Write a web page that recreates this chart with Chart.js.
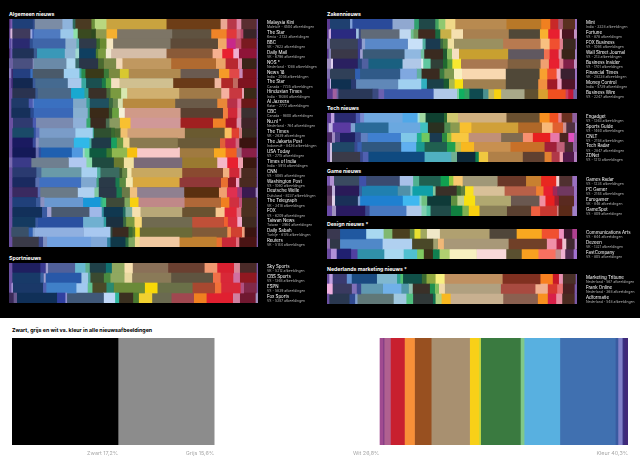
<!DOCTYPE html>
<html lang="nl">
<head>
<meta charset="utf-8">
<title>Kleur in nieuwsafbeeldingen</title>
<script src="https://cdn.jsdelivr.net/npm/chart.js@4"></script>
<style>
  html, body { margin: 0; padding: 0; background: #000; }
  #page { position: relative; width: 640px; height: 465px; overflow: hidden; font-family: Inter, sans-serif; }
  #lower { position: absolute; left: 0; top: 318px; width: 640px; height: 147px; background: #fff; }
  canvas { position: absolute; }
  .kop { position: absolute; margin: 0; font-size: 5.2px; line-height: 7px; font-weight: 700; color: #fff; white-space: nowrap; }
  .kop.zwart { color: #000; font-size: 5.3px; }
</style>
</head>
<body>
<div id="page"><div id="lower"></div></div>
<script>
// ---- Algemeen nieuws
const algemeenNames = ['Malaysia Kini', 'The Star', 'BBC', 'Daily Mail', 'NOS *', 'News 18', 'The Star', 'Hindustan Times', 'Al Jazeera', 'CBC', 'Nu.nl *', 'The Times', 'The Jakarta Post', 'USA Today', 'Times of India', 'CNN', 'Washington Post', 'Deutsche Welle', 'The Telegraph', 'FOX', 'Taiwan News', 'Daily Sabah', 'Reuters'];
const algemeenSubs = ['Maleisië - 4504 afbeeldingen', 'Kenia - 2733 afbeeldingen', 'VK - 7623 afbeeldingen', 'VK - 6796 afbeeldingen', 'Nederland - 1088 afbeeldingen', 'India - 2056 afbeeldingen', 'Canada - 7735 afbeeldingen', 'India - 19384 afbeeldingen', 'Katar - 2772 afbeeldingen', 'Canada - 9800 afbeeldingen', 'Nederland - 764 afbeeldingen', 'VK - 2639 afbeeldingen', 'Indonesië - 8436 afbeeldingen', 'VS - 2715 afbeeldingen', 'India - 5914 afbeeldingen', 'VS - 5065 afbeeldingen', 'VS - 1060 afbeeldingen', 'Duitsland - 8237 afbeeldingen', 'VK - 3418 afbeeldingen', 'VS - 6209 afbeeldingen', 'Taiwan - 3964 afbeeldingen', 'Turkije - 6176 afbeeldingen', 'VK - 5144 afbeeldingen'];
// relative share of each colour band, every row gets scaled to 100%
const algemeenShares = [
  [3,6,61,6,83,31,8,48,10,35,180,162,20,28,14,46,5],
  [3,6,54,6,4,80,39,13,41,13,32,32,165,117,46,30,12,8,40,5],
  [6,3,52,9,98,33,8,52,10,20,20,172,142,26,27,17,46,5],
  [3,6,64,10,83,32,11,50,7,23,16,166,138,29,33,17,53,5],
  [11,59,3,98,27,11,57,17,37,19,146,134,29,37,12,44,5],
  [6,5,52,7,93,47,6,12,55,15,33,27,155,115,31,30,10,42,5],
  [6,5,59,8,97,41,14,47,12,16,25,161,124,20,35,15,56,5],
  [9,69,7,100,40,12,54,12,32,18,156,126,24,38,6,38,5],
  [6,52,12,3,118,40,10,57,12,15,15,157,126,30,30,12,46,5],
  [6,57,10,118,44,6,57,10,20,18,167,127,15,28,12,46,5],
  [11,59,10,111,40,12,46,11,31,32,150,97,38,33,14,46,5],
  [9,64,6,11,108,52,3,52,11,17,21,172,119,21,22,9,44,5],
  [9,61,9,9,105,47,6,59,17,19,19,145,126,16,31,11,52,5],
  [9,70,9,7,92,33,6,14,51,16,46,30,128,102,35,33,15,45,5],
  [9,57,112,53,17,65,30,30,145,105,30,32,15,41,5],
  [9,72,15,120,47,10,57,8,15,13,152,122,19,30,6,46,5],
  [9,69,12,125,46,7,50,12,19,21,140,124,21,24,10,52,5],
  [9,76,8,112,50,13,53,16,24,22,141,104,24,31,14,41,8],
  [9,71,13,12,116,52,6,11,55,16,26,138,109,25,29,9,44,5],
  [9,89,15,13,114,37,6,57,8,20,25,125,100,27,36,14,46,5],
  [9,69,8,135,62,7,51,9,25,22,151,95,12,28,14,44,5],
  [6,52,12,6,147,80,6,48,12,8,14,157,105,11,33,8,36,5],
  [9,79,13,12,132,48,10,45,9,19,14,120,111,16,42,10,52,5]
];
const algemeenColors = [
  '4a2a70 7a5ab0 1f3f78 2f4a8a 7b8ca5 8fb4dc 2f6a5a 4a3a22 6b8f3a b9d77f c9a33f 6d3d17 eaa794 b8384a e08aa8 5a2d30 7a5aa8',
  '5a3a80 d9b8dc 3f3a5c 9aa8e0 3a5ab0 4f7ac0 9cc8ea 8fe0a8 3a4a20 2f4a20 8f9a50 f5b030 7d7566 5f5240 f08428 e0383c d06a7a b8486a 3a2428 7a5aa8',
  '5a4aa0 8a7ac0 2a2a70 2f4f90 3f65a8 8fb0d0 5fb0b0 2f3a4a 3a6a2a 6a8a30 f5e6c0 7d7565 5d4a38 f0a868 c8288a c04868 7a1a20 7a5aa8',
  '4a2a70 6a5ab0 203258 3a5a90 3a98b8 8fb5d5 a0d8d0 0f3f60 4a7a30 7a9a40 f0e8d0 d5bda8 8a5a38 f5b090 e82030 f0b0d0 8f1438 7a5aa8',
  '6a60a0 4a5080 8a90c0 6a8aa8 b0d8f0 3a6a6a 2a3548 4a6a30 7a8a48 f2d8b8 c09860 b06a30 eaa468 b82830 e088a0 3a2418 7a5aa8',
  '8a78c0 3a2a70 243f80 3a70c0 4a5a6a a0cff0 38a8a0 2a8a4a 3a3a18 3a7a38 7a8a40 d8c830 b08a50 6a5a50 f59a28 e04848 c888b8 7f1420 7a5aa8',
  '6a50a0 3a2a70 132850 3a5a9a 456a90 a8c8ec 38a8a0 1a5050 1a7a48 5fa840 f5e0c0 d0c090 6a3a18 f0b8a0 b02828 c06a60 7f1420 7a5aa8',
  '6a50a0 2a3350 3a5a90 4a6888 18a8d0 38a090 3a3028 4a6a3a 7a9a40 d8e8b0 d0b070 a07a48 f5b0a0 c83840 e8a0b0 3a2a18 7a5aa8',
  '6a50a0 1f3a68 4a5ab0 7a8ad0 3a70c0 80a8c8 38a098 1f5060 3a6a40 6a8a50 d8e0b0 b88a40 6a5a48 e88838 b83048 e07090 6a1818 7a5aa8',
  '6a50a0 16305a 2a4a90 3a68b8 88b0d0 38a080 3a2a18 3a5a30 6aa040 f5f0d8 d09a88 5a4030 f08040 d02838 e08090 3a3030 7a5aa8',
  '6a50a0 2f3a70 4a5ab0 7a8ab0 8fb0d8 38a870 3a2a20 4a6a50 8a9a60 f8c030 d09898 a02020 f08028 b01828 d890a8 3f2428 7a5aa8',
  '6a50a0 1a4a68 3050a0 5a70b8 7a9cc8 a0d0f0 40b0a0 2f5030 3a6a30 4a6a30 f0c070 d0a078 6a5a30 f8c060 e04030 d07a80 3a2a20 7a5aa8',
  '6a50a0 1a1a60 3a4a9a 8a90c0 6a8ab0 30b8e8 48b0a0 1f3a48 18a060 6a9a40 f0d890 8a7a50 6a5a38 e06038 c82848 d06a80 3a1410 7a5aa8',
  '6a50a0 141a58 6a70b0 3050a0 2060b0 5098e0 a0d8d0 70d8a0 0f5a40 3a7a30 90b850 f8c010 f8c8c8 a07a40 f8a820 f06020 a07080 8a2048 7a5aa8',
  '7a6ab0 3a3a88 6f7f90 b0c8f0 88d8a8 1f4a40 6a7a30 f0e0a0 7a6a78 9a7a30 f5b8c8 e82030 f0a0b0 3a1810 7a5aa8',
  '6a50a0 2a3a70 4a6a9a 6a9aa8 a8d0f0 50b0a0 3a6a60 3a5a30 6a8a48 f5e8b0 c8a860 8a4a30 f0b080 d02838 e090a0 4a2a20 7a5aa8',
  '6a50a0 1a2a60 5a70b0 4070c0 80a8d0 40a080 2a3a48 1a7a50 5a8a40 f5e8b0 d8a840 903838 e87030 901828 f0a0c0 4a2a20 7a5aa8',
  '6a50a0 3a2a60 5a6ab0 6a7a88 b0d0f0 80c8a0 2a3848 1a7a50 6a7a48 f0c080 8f8090 5a3010 f0a070 e03050 a03878 3a1a50 a088c0',
  '6a50a0 20407a 3a5a9a 8a90c0 6a98d0 1898d8 30b090 40c080 3f4a38 80a860 f8d010 c08888 b06838 f08020 d03040 c05078 4a3020 7a5aa8',
  '6a50a0 12305a 3a5aa0 a0a0d0 4a5a70 a0b8e8 3090a0 103850 206a60 80b0a0 f5e0b0 b8a878 6a5230 f8c890 e02838 e07080 4a3020 7a5aa8',
  '6a50a0 143a60 3a5aa0 2a50a0 70b0d0 30a0a0 1a3040 3a6a40 7a9a40 f8d878 706a50 c05038 f06030 d83040 f0a8c8 3f2a20 7a5aa8',
  '6a50a0 3a5068 3060b0 80a0d0 90b0e0 a8c8f0 2f4a40 3a2a20 3a6a30 5a7a30 f0d820 6a6a38 805a38 f09050 d04030 f0a080 3a1410 7a5aa8',
  '6a50a0 3a3a48 3a4a90 8090c0 70a0e0 80a8d8 3080a0 103848 2a6a40 80a860 f0d890 f0c8a0 c08030 e87030 c82838 e07080 4a1414 7a5aa8'
];

// ---- Sportnieuws
const sportNames = ['Sky Sports', 'CBS Sports', 'ESPN', 'Fox Sports'];
const sportSubs = ['VK - 5212 afbeeldingen', 'VS - 1368 afbeeldingen', 'VS - 5839 afbeeldingen', 'VS - 5387 afbeeldingen'];
const sportShares = [
  [9,84,16,7,81,31,13,48,18,38,25,106,109,38,50,18,50,5],
  [9,84,10,6,107,20,7,40,20,42,23,117,125,23,38,20,50,5],
  [6,5,90,10,90,34,14,42,22,93,38,105,67,19,58,10,38,5],
  [13,10,120,25,5,110,34,12,42,17,40,58,67,38,79,21,47,8]
];
const sportColors = [
  '6a50a0 1f1f60 3a3a90 a0a0d0 50609a 68b8d0 60b090 1f4048 107070 90a860 f8e0b0 8a7058 6a3f30 f09870 d82030 d88898 4a2a28 7a5aa8',
  '6a50a0 183a68 3a60a0 a0a0d0 2858a8 a0c8e8 50a8a0 3a4a30 4a8a40 90a860 e8d8a0 8a7a58 5f5440 f07048 d82838 d070a0 901820 7a5aa8',
  '6a50a0 a090d0 1a3868 5060b0 4080c8 a0c8f0 60c090 4a4a28 2a8a70 6a8a38 f8d808 6a7048 a84830 f07038 d82838 b05080 802848 7a5aa8',
  '3a2a58 6a5a90 103058 3040a0 9090d0 405878 c0d8f8 30b8a0 3a3020 4a7a30 f0d030 6a6a50 a04850 f08020 e02030 d080a0 701830 a090c0'
];

// ---- Zakennieuws
const zakenNames = ['Mint', 'Fortune', 'FOX Business', 'Wall Street Journal', 'Business Insider', 'Financial Times', 'Money Control', 'Business Wire'];
const zakenSubs = ['India - 3328 afbeeldingen', 'VS - 878 afbeeldingen', 'VS - 1094 afbeeldingen', 'VS - 213 afbeeldingen', 'VS - 1701 afbeeldingen', 'VK - 28238 afbeeldingen', 'India - 5739 afbeeldingen', 'VS - 2247 afbeeldingen'];
const zakenShares = [
  [8,60,7,120,65,14,49,10,20,30,153,104,27,24,14,36,7],
  [4,7,75,8,6,116,34,8,14,51,15,33,35,137,93,25,34,7,36,10],
  [8,83,12,10,128,44,9,44,8,14,19,147,112,27,30,10,38,5],
  [4,7,80,7,8,125,49,10,56,12,15,21,147,107,17,27,9,40,7],
  [11,6,74,12,20,102,56,6,22,37,13,15,26,140,98,25,31,12,32,10],
  [8,75,15,120,50,14,54,14,29,24,131,101,23,28,12,43,7],
  [8,3,60,15,126,69,17,50,16,17,25,128,97,27,30,13,40,7],
  [16,12,5,102,18,17,148,70,6,16,15,41,16,17,21,70,41,29,53,8,15,12]
];
const zakenColors = [
  '5a3a90 1f4070 80a0d8 2a4a9a 90a8d0 30a070 204848 40a060 90c870 f0d888 b88a50 b87828 f08020 c82828 a85870 5a3020 9a70c0',
  '5a3a90 c8a8e0 2a2a80 a0c0e0 3a4a80 606a78 c0d8f0 70c090 6a9a60 402a20 1a6a40 c8b048 f5e0b0 a88050 504838 f8b030 e82030 f0b0c0 4a1420 c090c0',
  '8070b0 3a4258 3a4090 90a0d0 5a88c8 c8e0f8 50b0a0 1a3a50 3a6a40 5a8a40 f0e0a0 9a9060 b87a50 f8c080 f05030 e08090 3a2820 9a70c0',
  '5a3a90 8080b0 3a3848 3a3a90 a0a0d0 3a5a78 90b8e0 70c0a0 3a2a20 205a30 90c060 f5e0c0 c8a030 605860 f07050 e02030 e090a0 3a2418 a080c0',
  'a090c0 e0d0f0 2a2060 2a4a80 5060a0 1a6080 b0c8e8 e0f0f0 60c8a0 304038 206a30 60a040 f8e830 a87850 806040 f0a070 e82030 e08090 802048 c090c0',
  '8070b0 304058 3060b0 305a88 80a8e0 60b0a0 3a2a20 3a7a40 809a50 f8f0c0 f8d8b0 504838 f8a030 f05030 f0b0c0 3a2030 9a70c0',
  '6a50a0 c0b0e0 0f3050 2a3a70 6088b8 a0d0f0 30b0c0 1a4048 1a5a30 a8b850 f8e010 a08050 504838 f09040 a01828 f0a0c0 501428 9a70c0',
  '5a3a90 a060a0 6a60a0 2a3858 3a4a80 6a60b0 3a58a8 b0c8e8 80d0a0 10b060 30a060 0f4a50 4a9090 c8b860 f8d010 a8a888 605030 d8a030 f05020 c84060 c01838 7060a0'
];

// ---- Tech nieuws
const techNames = ['Engadget', 'Sports Guide', 'CNLT', 'Tech Radar', 'ZDNet'];
const techSubs = ['VS - 1263 afbeeldingen', 'VS - 1460 afbeeldingen', 'VS - 2158 afbeeldingen', 'VS - 2847 afbeeldingen', 'VS - 1213 afbeeldingen'];
const techShares = [
  [11,10,64,13,12,115,45,6,18,55,9,33,145,99,30,26,10,32,15],
  [4,12,54,13,100,95,23,49,18,28,35,140,71,32,31,10,26,7],
  [14,9,15,45,17,21,99,48,14,24,37,15,13,52,97,65,30,52,28,26,17,10],
  [8,6,67,9,13,118,45,25,67,25,17,39,109,102,36,24,25,13],
  [8,6,84,8,17,168,80,17,55,10,28,104,65,21,24,10,33,10]
];
const techColors = [
  '5a3a90 c0a0e0 2a2a70 4a5ab0 7a8ad0 70a8e0 50a8e8 a0e0e0 a0d8a0 0f4030 2a6a30 d0c870 d0b080 6a5030 f89020 f05020 e08090 6a3020 9060a0',
  '6a50a0 c0b0e0 5a3aa0 80a0d0 2a6a98 6aa8e0 40c0c0 2a3020 508a50 8a9a50 f8c030 d0a038 b06828 f8b878 e06030 d09090 503040 a080c0',
  '4a2a68 a08ac0 4a4088 1f2060 3a4a90 6080c0 4080d0 80c8e8 20b090 70c860 1a3a50 2a8a40 90c040 f8c840 c09078 806a50 f89070 e82020 e878a8 4a2420 e050c0 9060a0',
  '6a50a0 d0c0e0 204868 3a4a90 3a60b0 305880 60b0f0 1a9a90 206050 20a050 c0c050 f8b820 c89050 c87028 a02038 c06078 4a2a30 9060a0',
  '6a50a0 d0c0e0 3a3a48 3a4a90 5060b0 0f4a80 50b0c0 70b090 0f2a3a 108050 f0c840 b08048 604030 e08030 b03848 f0a0b0 501848 b080c0'
];

// ---- Game nieuws
const gameNames = ['Games Radar', 'PC Gamer', 'Eurogamer', 'GameSpot'];
const gameSubs = ['VS - 1234 afbeeldingen', 'VS - 2144 afbeeldingen', 'VK - 846 afbeeldingen', 'VS - 809 afbeeldingen'];
const gameShares = [
  [8,12,75,21,100,40,18,64,25,13,28,104,85,45,45,9,39,15],
  [14,9,72,8,107,38,6,61,8,63,12,13,25,93,94,22,28,13,50,10],
  [14,9,68,7,127,50,6,17,71,19,20,33,107,85,18,27,13,45,10],
  [14,12,87,13,110,45,15,12,61,34,19,32,82,72,27,50,5,41,15]
];
const gameColors = [
  '7a5ab0 b090d0 3a4a60 4050a8 3a4a70 a8c0e8 50b090 206050 10a050 90c840 f8c870 a09878 6a3828 c88030 e82820 f0d0d0 503030 9a70c0',
  '4a2a58 c0b0d8 2a1a58 3a60a0 2080b0 5090a8 80c8d0 10a0a8 80c8a0 3a3028 3a6a30 608040 f8e020 d8c098 b86048 f08030 e82030 a02858 703860 9a70c0',
  '5a3a60 e0d0e8 1a3058 80a0d0 1f80d0 40b8f0 90d8c0 70c080 0f3a38 609040 c0d090 f8e010 b0a870 6a5850 f090a0 e82020 a02030 5a2a20 9a70c0',
  '6a4aa8 a090c0 2a1a60 3a4a90 4878c0 b0c8e8 80d0b0 50c0a0 204a48 108040 80b050 f8d010 8a8058 5a4030 f06040 c83830 d08080 5a2a18 a080c8'
];

// ---- Design nieuws
const designNames = ['Communications Arts', 'Dezeen', 'FastCompany'];
const designSubs = ['VS - 644 afbeeldingen', 'VK - 1321 afbeeldingen', 'VS - 805 afbeeldingen'];
const designShares = [
  [38,78,52,26,52,14,18,19,39,148,81,75,51,15,25,15],
  [8,30,127,88,63,14,18,193,114,29,17,12,25,8],
  [11,17,43,19,80,58,40,20,27,20,30,81,88,46,50,51,16,13,25,11]
];
const designColors = [
  '3a3850 2058a0 a8d8f0 80b870 4a4020 608040 e8e030 a0a860 f0e8c8 b0a070 50463a f8a820 f05030 f090c0 401830 b04090',
  '9070b0 303848 5088c8 b0d0f0 4a4828 a0a070 f0b878 a89878 704028 f090a8 b02040 f0c0d0 402830 b080c0',
  '6a4aa0 b090d8 202070 5040a0 3090a8 a8d8f0 50c0d0 80c860 3a3018 108050 b0d070 f8f0c0 f8d8d8 5a5030 f8a020 f87060 c09090 f0b0d0 502a50 a070d0'
];

// ---- Nederlands marketing nieuws
const marketingNames = ['Marketing Tribune', 'Frank Online', 'Adformatie'];
const marketingSubs = ['Nederland - 567 afbeeldingen', 'Nederland - 368 afbeeldingen', 'Nederland - 548 afbeeldingen'];
const marketingShares = [
  [6,10,42,15,75,60,10,8,56,14,27,27,173,113,37,18,12,38,5],
  [16,57,15,13,65,55,22,12,51,15,12,18,167,103,37,28,17,35,8],
  [6,60,17,7,108,38,20,59,8,18,27,157,103,30,25,18,37,8]
];
const marketingColors = [
  '6a50a0 c0a0e0 3a3a70 6090d0 1a4a80 80b8d0 30a090 50c070 105048 3a6a30 90a840 f8f080 c09060 803020 f88020 c81828 e890b0 4a3028 7a5aa8',
  'f0b0e0 3a3a60 8070b8 3a4a90 6098b0 70b0e8 5098a8 90c0b0 3a3028 209050 80c060 f0d8a8 b0a080 a84a40 f0b090 d83830 e87070 4a2020 7a5aa8',
  '6a50a0 2a3850 304a90 80a0d0 607878 a0c8e0 50c080 303838 107050 b0d080 f8b820 c8b090 8a6050 f89020 d82048 e890a0 4a2a20 7a5aa8'
];

// ---- Zwart, grijs, wit vs. kleur (percentages)
const totalLabels = ['Zwart 17,2%', 'Grijs 15,6%', 'Wit 26,8%', 'Kleur 40,3%'];
const neutralValues = [17.2, 15.6, 26.8];
const neutralColors = ['#000000', '#8c8c8c', '#ffffff'];
const colorValues = [0.6, 0.16, 1.03, 2.28, 1.63, 2.71, 6.23, 1.52, 0.27, 6.45, 0.6, 5.8, 9.0, 0.43, 0.7, 0.33, 0.6];
const colorBands = ['#a04a90', '#7a3a80', '#b06090', '#c8202f', '#f89038', '#985020', '#a89070', '#f8d018', '#c0d840', '#3a7a40', '#80c888', '#58b0e0', '#4070b0', '#3a5aa0', '#8080c8', '#3a3080', '#402878'];

const page = document.getElementById('page');

function addCanvas(left, top, width, height) {
  const canvas = document.createElement('canvas');
  canvas.width = width;
  canvas.height = height;
  canvas.style.left = left + 'px';
  canvas.style.top = top + 'px';
  canvas.style.width = width + 'px';
  canvas.style.height = height + 'px';
  page.appendChild(canvas);
  return canvas;
}

function addHeading(text, left, top, black) {
  const heading = document.createElement('h2');
  heading.className = black ? 'kop zwart' : 'kop';
  heading.textContent = text;
  heading.style.left = left + 'px';
  heading.style.top = top + 'px';
  page.appendChild(heading);
}

// outlet name + country line next to each row
const rowLabels = {
  id: 'rowLabels',
  afterDraw(chart, args, opts) {
    const { ctx, scales } = chart;
    const textX = chart.chartArea.right + opts.gap;
    ctx.save();
    ctx.textBaseline = 'middle';
    opts.names.forEach((name, i) => {
      const y = scales.y.getPixelForValue(i);
      ctx.fillStyle = '#ffffff';
      ctx.font = '4.4px Inter, sans-serif';
      ctx.fillText(name, textX, y - 1.3);
      ctx.fillStyle = '#b5b5b5';
      ctx.font = '3.4px Inter, sans-serif';
      ctx.fillText(opts.subs[i], textX, y + 3.2);
    });
    ctx.restore();
  }
};

function drawPanel(title, names, subs, shares, colors, box) {
  addHeading(title, box.left, box.top - 8);
  const rowColors = colors.map(row => row.split(' ').map(hex => '#' + hex));
  const bandCount = Math.max(...shares.map(row => row.length));
  const datasets = [];
  for (let band = 0; band < bandCount; band++) {
    datasets.push({
      data: shares.map(row => {
        const total = row.reduce((a, b) => a + b, 0);
        return band < row.length ? row[band] / total * 100 : 0;
      }),
      backgroundColor: rowColors.map(row => row[band] || '#000000'),
      borderWidth: 0,
      barPercentage: 1,
      categoryPercentage: 1
    });
  }
  return new Chart(addCanvas(box.left, box.top, box.width + box.labelWidth, box.height), {
    type: 'bar',
    data: { labels: names, datasets },
    options: {
      indexAxis: 'y',
      responsive: false,
      animation: false,
      layout: { padding: { right: box.labelWidth } },
      scales: {
        x: { stacked: true, min: 0, max: 100, display: false },
        y: { stacked: true, display: false }
      },
      plugins: {
        legend: { display: false },
        tooltip: { enabled: false },
        rowLabels: { names, subs, gap: 9 }
      }
    },
    plugins: [rowLabels]
  });
}

const leftX = 9, rightX = 327, leftW = 249, rightW = 250, labelsW = 62;
drawPanel('Algemeen nieuws', algemeenNames, algemeenSubs, algemeenShares, algemeenColors, { left: leftX, top: 19, width: leftW, height: 228, labelWidth: labelsW });
drawPanel('Sportnieuws', sportNames, sportSubs, sportShares, sportColors, { left: leftX, top: 263, width: leftW, height: 40, labelWidth: labelsW });
drawPanel('Zakennieuws', zakenNames, zakenSubs, zakenShares, zakenColors, { left: rightX, top: 19, width: rightW, height: 80, labelWidth: labelsW });
drawPanel('Tech nieuws', techNames, techSubs, techShares, techColors, { left: rightX, top: 113, width: rightW, height: 49, labelWidth: labelsW });
drawPanel('Game nieuws', gameNames, gameSubs, gameShares, gameColors, { left: rightX, top: 176, width: rightW, height: 40, labelWidth: labelsW });
drawPanel('Design nieuws *', designNames, designSubs, designShares, designColors, { left: rightX, top: 229, width: rightW, height: 30, labelWidth: labelsW });
drawPanel('Nederlands marketing nieuws *', marketingNames, marketingSubs, marketingShares, marketingColors, { left: rightX, top: 274, width: rightW, height: 30, labelWidth: labelsW });

// bottom bar: black, grey, white, then all colour bands
const totalsValues = neutralValues.concat(colorValues);
const totalsColors = neutralColors.concat(colorBands);
const totalsMax = totalsValues.reduce((a, b) => a + b, 0);
const totalEnds = [neutralValues[0], neutralValues[0] + neutralValues[1], neutralValues[0] + neutralValues[1] + neutralValues[2], totalsMax];

const totalLabelsPlugin = {
  id: 'totalLabels',
  afterDraw(chart) {
    const { ctx, scales, chartArea } = chart;
    ctx.save();
    ctx.font = '5.4px Inter, sans-serif';
    ctx.fillStyle = '#a8a8a8';
    ctx.textAlign = 'right';
    ctx.textBaseline = 'middle';
    totalLabels.forEach((label, i) => {
      ctx.fillText(label, scales.x.getPixelForValue(totalEnds[i]), chartArea.bottom + 8);
    });
    ctx.restore();
  }
};

addHeading('Zwart, grijs en wit vs. kleur in alle nieuwsafbeeldingen', 12, 327, true);
new Chart(addCanvas(12, 338, 616, 122), {
  type: 'bar',
  data: {
    labels: ['Alle nieuwsafbeeldingen'],
    datasets: totalsValues.map((value, i) => ({
      data: [value],
      backgroundColor: totalsColors[i],
      borderWidth: 0,
      barPercentage: 1,
      categoryPercentage: 1
    }))
  },
  options: {
    indexAxis: 'y',
    responsive: false,
    animation: false,
    layout: { padding: { bottom: 15 } },
    scales: {
      x: { stacked: true, min: 0, max: totalsMax, display: false },
      y: { stacked: true, display: false }
    },
    plugins: { legend: { display: false }, tooltip: { enabled: false } }
  },
  plugins: [totalLabelsPlugin]
});
</script>
</body>
</html>
